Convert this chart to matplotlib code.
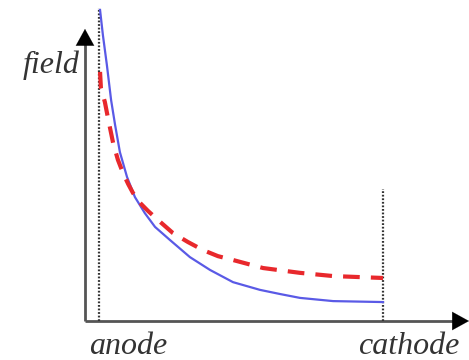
import matplotlib
matplotlib.use("Agg")
import matplotlib.pyplot as plt

# Position between the electrodes (0 = anode, 1 = cathode)
pos_blue = [0.002, 0.012, 0.026, 0.041, 0.055, 0.072, 0.097, 0.125, 0.160, 0.196,
            0.249, 0.319, 0.390, 0.471, 0.566, 0.637, 0.707, 0.824, 1.0]
field_blue = [9.69, 8.91, 7.98, 6.88, 6.11, 5.26, 4.49, 3.86, 3.36, 2.93,
              2.52, 1.99, 1.59, 1.21, 0.97, 0.84, 0.72, 0.62, 0.59]

pos_red = [0.002, 0.005, 0.019, 0.030, 0.048, 0.065, 0.083, 0.101, 0.118, 0.143, 0.171,
           0.206, 0.259, 0.312, 0.365, 0.418, 0.471, 0.577, 0.707, 0.824, 1.0]
field_red = [7.76, 7.26, 6.82, 6.32, 5.55, 5.02, 4.61, 4.27, 3.99, 3.68, 3.43,
             3.15, 2.74, 2.46, 2.21, 2.02, 1.90, 1.65, 1.50, 1.40, 1.34]

# Electrode markers: position and height of the dotted line
electrode_pos = [0.0, 1.0]
electrode_top = [9.75, 4.1]
electrode_labels = ["anode", "cathode"]
label_centres = [128, 409]
y_label = "field"

W, H = 469, 360
fig = plt.figure(figsize=(W / 100, H / 100), dpi=100)
ax = fig.add_axes([85 / W, 39 / H, 1 - 85 / W, 321 / H])
ax.set_xlim(-0.0511, 1.3034)
ax.set_ylim(0, 10)
ax.axis("off")

# Axes drawn as arrows
ax.plot([-0.0511, -0.0511], [0, 8.7], color="#555555", lw=2, clip_on=False, solid_capstyle="butt")
ax.plot([-0.0511, 1.28], [0, 0], color="#555555", lw=2, clip_on=False, solid_capstyle="butt")
head = dict(arrowstyle="-|>,head_length=1.0,head_width=0.55",
            color="black", lw=0.1, mutation_scale=12, shrinkA=0, shrinkB=0)
ax.annotate("", xy=(-0.0511, 9.1), xytext=(-0.0511, 8.6), arrowprops=head, annotation_clip=False)
ax.annotate("", xy=(1.3034, 0), xytext=(1.27, 0), arrowprops=head, annotation_clip=False)

# Electrodes
for xp, top in zip(electrode_pos, electrode_top):
    ax.plot([xp, xp], [0, top], color="#333333", lw=1.6, linestyle=(0, (0.8, 0.8)), clip_on=False)

# Field profiles
ax.plot(pos_blue, field_blue, color="#5a5ae6", lw=1.6, clip_on=False, solid_joinstyle="round")
plt.rcParams["lines.scale_dashes"] = False
ax.plot(pos_red, field_red, color="#e8282c", lw=3.0, linestyle=(0, (12, 8)), clip_on=False)

# Labels
font = dict(family="Liberation Serif", style="italic", size=23, color="#333333")
fig.text(80 / W, 1 - 73 / H, y_label, ha="right", va="baseline", **font)
for cx, lab in zip(label_centres, electrode_labels):
    fig.text(cx / W, 1 - 354 / H, lab, ha="center", va="baseline", **font)

fig.savefig("out.png", dpi=100)
